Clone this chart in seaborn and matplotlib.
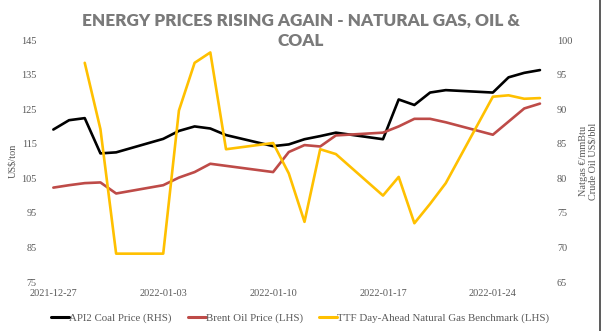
import numpy as np
import pandas as pd
import matplotlib
matplotlib.use("Agg")
import matplotlib.pyplot as plt
import seaborn as sns
from matplotlib.lines import Line2D

# ---------------- data ----------------
dates = ["2021-12-27", "2021-12-28", "2021-12-29", "2021-12-30", "2021-12-31",
         "2022-01-03", "2022-01-04", "2022-01-05", "2022-01-06", "2022-01-07",
         "2022-01-10", "2022-01-11", "2022-01-12", "2022-01-13", "2022-01-14",
         "2022-01-17", "2022-01-18", "2022-01-19", "2022-01-20", "2022-01-21",
         "2022-01-24", "2022-01-25", "2022-01-26", "2022-01-27"]
coal = [119.1, 121.8, 122.4, 112.2, 112.5,
        116.4, 118.7, 120.0, 119.4, 117.5,
        114.3, 114.8, 116.3, 117.2, 118.2,
        116.3, 127.8, 126.2, 129.8, 130.5,
        129.8, 134.2, 135.5, 136.3]
brent = [78.65, 79.0, 79.3, 79.4, 77.8,
         79.0, 80.1, 80.9, 82.1, 81.8,
         80.9, 83.8, 84.8, 84.6, 86.2,
         86.6, 87.5, 88.6, 88.6, 88.1,
         86.3, 88.2, 90.1, 90.8]
ttf = [np.nan, np.nan, 96.7, 87.1, 69.1,
       69.1, 89.8, 96.7, 98.2, 84.2,
       85.1, 80.7, 73.7, 84.2, 83.5,
       77.5, 80.2, 73.5, 76.3, 79.3,
       91.8, 92.0, 91.5, 91.6]
tick_labels = ["2021-12-27", "2022-01-03", "2022-01-10", "2022-01-17", "2022-01-24"]
series_names = ["API2 Coal Price (RHS)", "Brent Oil Price (LHS)",
                "TTF Day-Ahead Natural Gas Benchmark (LHS)"]

# ---------------- frame ----------------
d = pd.to_datetime(pd.Series(dates))
start = d.iloc[0]
day = (d - start).dt.days
df = pd.DataFrame({"day": day, "coal": coal, "brent": brent, "ttf": ttf})
tick_pos = [(pd.Timestamp(t) - start).days for t in tick_labels]

sns.set_theme(style="white")
plt.rcParams["font.family"] = ["Liberation Serif", "DejaVu Serif"]

TXT = "#595959"
C_COAL, C_OIL, C_GAS = "#000000", "#BE4B48", "#FFC000"

fig = plt.figure(figsize=(6.02, 3.31), dpi=100)
ax = fig.add_axes([40 / 602, 1 - 282 / 331, 510 / 602, 242 / 331])
ax2 = ax.twinx()

sns.lineplot(data=df, x="day", y="coal", ax=ax, color=C_COAL, lw=1.9)
sns.lineplot(data=df, x="day", y="brent", ax=ax2, color=C_OIL, lw=1.9)
sns.lineplot(data=df, x="day", y="ttf", ax=ax2, color=C_GAS, lw=1.9)

ax.set_xlim(-0.85, 31.64)
ax.set_ylim(75, 145)
ax2.set_ylim(65, 100)
ax.set_yticks(np.arange(75, 146, 10))
ax2.set_yticks(np.arange(65, 101, 5))
ax.set_xticks(tick_pos)
ax.set_xticklabels(tick_labels)

for a in (ax, ax2):
    for s in a.spines.values():
        s.set_visible(False)
    a.grid(False)
    a.tick_params(length=0, labelsize=7.4, colors=TXT)
    a.set_xlabel("")
ax.tick_params(axis="y", pad=2.5)
ax2.tick_params(axis="y", pad=5)
ax.tick_params(axis="x", pad=5)

ax.set_ylabel("US$/ton", fontsize=7.4, color=TXT, labelpad=3)
ax2.set_ylabel("Natgas €/mmBtu\nCrude Oil US$/bbl", fontsize=7.4, color=TXT,
               rotation=90, labelpad=5, linespacing=1.0)

fig.text(301 / 602, 1 - 30.5 / 331,
         "ENERGY PRICES RISING AGAIN - NATURAL GAS, OIL &\nCOAL",
         ha="center", va="center", fontsize=12.3, fontweight="heavy",
         color="#7a7a7a", family=["Lato", "DejaVu Sans"], linespacing=1.32)

handles = [Line2D([], [], color=c, lw=2.2) for c in (C_COAL, C_OIL, C_GAS)]
fig.legend(handles, series_names, loc="center", ncol=3,
           bbox_to_anchor=(300 / 602, 1 - 318 / 331), frameon=False,
           fontsize=7.8, labelcolor=TXT, handlelength=1.65, handletextpad=0.0,
           columnspacing=1.5)

fig.add_artist(Line2D([599.5 / 602, 599.5 / 602], [0, 1], color="#404040", lw=1.2,
                      transform=fig.transFigure))

fig.savefig("out.png", dpi=100, facecolor="white")
